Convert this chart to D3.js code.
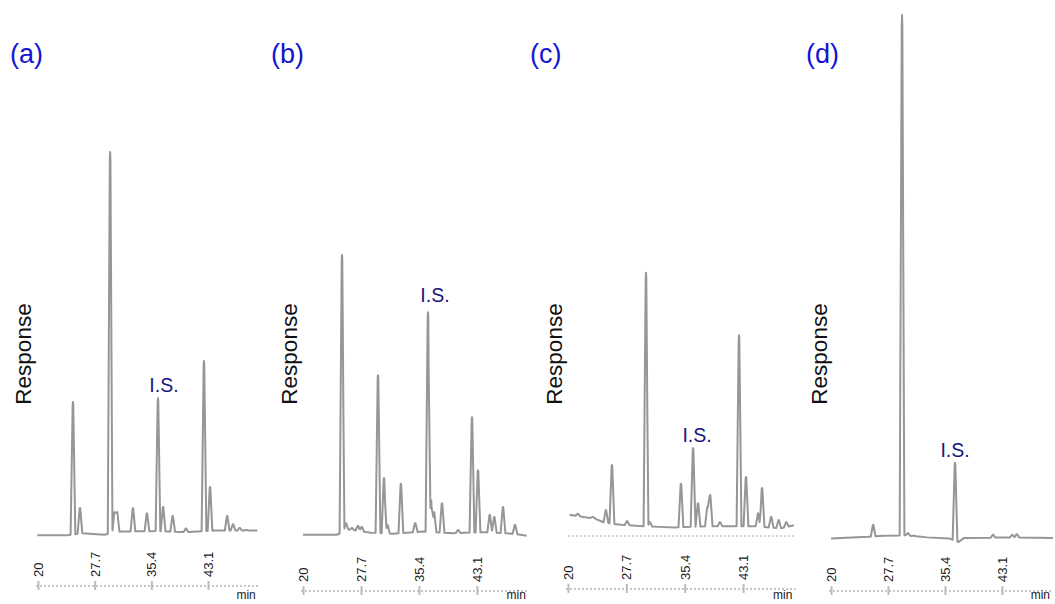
<!DOCTYPE html>
<html>
<head>
<meta charset="utf-8">
<script src="https://cdn.jsdelivr.net/npm/d3@7"></script>
<style>
  body { margin: 0; background: #fff; }
  svg { display: block; font-family: "Liberation Sans", Arial, sans-serif; }
</style>
</head>
<body>
<div id="chart"></div>
<script>
// retention time axis
const timeDomain = [20, 50];
const tickValues = [20, 27.7, 35.4, 43.1];
const tickLabels = ["20", "27.7", "35.4", "43.1"];
const panelNames = ["(a)", "(b)", "(c)", "(d)"];
const isTimes = [36.3, 36.6, 36.5, 36.76];

// peaks: [time (min), apex response]
const peaksA = [[24.75, 26.3], [25.7, 6.1], [29.8, 73.9], [30.4, 5.3], [30.75, 5.3], [32.9, 6.1],
  [34.8, 5.1], [36.3, 27.0], [37.0, 6.3], [38.3, 4.6], [40.1, 2.2], [42.55, 34.1], [43.37, 10.1],
  [45.7, 4.6], [46.5, 3.0], [47.4, 2.3], [48.3, 1.9]];
const peaksB = [[25.18, 54.3], [25.7, 3.2], [26.5, 2.3], [27.3, 2.7], [27.8, 2.5], [29.96, 31.4],
  [30.76, 11.8], [31.2, 2.9], [33.0, 10.7], [34.9, 3.2], [36.6, 43.4], [37.0, 7.6], [37.4, 5.3],
  [38.46, 7.0], [40.6, 1.9], [42.44, 23.4], [43.24, 13.3], [44.8, 4.8], [45.4, 4.4], [46.56, 6.3],
  [48.15, 2.9]];
const peaksC = [[21.3, 5.0], [23.3, 4.4], [25.0, 5.7], [25.8, 14.3], [27.8, 3.6], [30.29, 50.9],
  [30.8, 3.4], [34.9, 10.7], [36.5, 17.5], [37.15, 7.0], [38.4, 6.3], [38.75, 8.6], [40.05, 3.4],
  [42.56, 39.0], [43.48, 12.0], [45.07, 5.1], [45.6, 9.9], [46.8, 4.4], [47.8, 3.8], [48.8, 3.4]];
const peaksD = [[25.7, 2.9], [29.6, 100], [30.4, 1.3], [31.2, 0.8], [36.76, 14.7], [41.9, 1.0],
  [44.5, 1.0], [45.1, 1.1]];

// baseline drift: [time, response]
const baseA = [[19.9, 0.9], [24, 0.9], [26, 1.3], [29, 1.0], [31, 1.6], [36, 1.7], [40, 1.5], [44, 1.8], [49.8, 1.8]];
const baseB = [[20, 1.0], [24.5, 1.0], [26, 2.0], [29, 1.4], [32, 1.2], [36, 1.6], [40, 1.3], [44, 1.5], [48, 1.2], [49.7, 0.8]];
const baseC = [[20.2, 4.8], [22, 4.4], [23.5, 4.1], [24.8, 3.3], [27, 2.9], [29, 2.7], [32, 2.5], [34, 2.4],
  [38, 2.6], [41, 2.6], [45, 2.6], [48, 2.2], [49.8, 2.8]];
const baseD = [[20, 0.3], [25, 0.6], [27, 0.8], [30, 0.9], [33, 0.5], [36, 0.3], [37.2, -0.4], [38, 0.4], [45, 0.5], [50, 0.4]];

const allPeaks = [peaksA, peaksB, peaksC, peaksD];
const allBase = [baseA, baseB, baseC, baseD];

// layout only
const layout = [
  {x20: 38, k: 7.36, axisY: 586, labelX: 10, respX: 31, isDx: 6, isGap: 6, dotted: false},
  {x20: 303, k: 7.53, axisY: 591, labelX: 271, respX: 297, isDx: 7, isGap: 10, dotted: false},
  {x20: 568, k: 7.58, axisY: 589, labelX: 530, respX: 562, isDx: 4, isGap: 6, dotted: true},
  {x20: 831, k: 7.4, axisY: 591, labelX: 806, respX: 827, isDx: 0, isGap: 6, dotted: false}
];

document.addEventListener("DOMContentLoaded", setup);

function setup() {
  const width = 1055, height = 604;
  const svg = d3.select("#chart").append("svg")
    .attr("width", width)
    .attr("height", height);

  // one response scale for all four traces
  const y = d3.scaleLinear().domain([0, 100]).range([540, 15]);

  layout.forEach((lay, i) => {
    const x = d3.scaleLinear().domain(timeDomain)
      .range([lay.x20, lay.x20 + (timeDomain[1] - timeDomain[0]) * lay.k]);
    renderPanel(svg, i, lay, x, y, width);
  });
}

function buildTrace(peaks, base) {
  const baseAt = d3.scaleLinear()
    .domain(base.map(d => d[0]))
    .range(base.map(d => d[1]))
    .clamp(true);
  const hw = 0.32;
  let knots = base.map(d => d[0]);
  peaks.forEach(p => { knots.push(p[0] - hw, p[0] - 0.04, p[0], p[0] + 0.04, p[0] + hw); });
  knots = knots.filter(t => t >= base[0][0] && t <= base[base.length - 1][0]).sort((a, b) => a - b);
  return knots.map(t => {
    let top = 0;
    peaks.forEach(p => {
      const dist = Math.abs(t - p[0]);
      let f = Math.max(0, 1 - dist / hw);
      if (dist <= 0.04) f = 1 - dist * 0.5; // slightly flat apex
      top = Math.max(top, (p[1] - baseAt(p[0])) * f);
    });
    return [t, baseAt(t) + top];
  });
}

function renderPanel(svg, i, lay, x, y, width) {
  const g = svg.append("g");
  const trace = buildTrace(allPeaks[i], allBase[i]);

  if (lay.dotted) {
    g.append("line")
      .attr("x1", x(timeDomain[0])).attr("x2", x(timeDomain[1]))
      .attr("y1", y(0) - 4).attr("y2", y(0) - 4)
      .attr("stroke", "#d4d4d4")
      .attr("stroke-width", 2)
      .attr("stroke-dasharray", "2,2");
  }

  g.append("path")
    .datum(trace)
    .attr("fill", "none")
    .attr("stroke", "#969696")
    .attr("stroke-width", 2)
    .attr("stroke-linejoin", "round")
    .attr("d", d3.line().x(d => x(d[0])).y(d => y(d[1])));

  // time axis with upright labels
  const axis = g.append("g")
    .attr("transform", `translate(0,${lay.axisY})`)
    .call(d3.axisTop(x).tickValues(tickValues)
      .tickFormat((d, j) => tickLabels[j])
      .tickSizeOuter(0).tickSizeInner(5));
  axis.select(".domain")
    .attr("d", `M${x(timeDomain[0]) - 2},0H${x(timeDomain[1])}`)
    .attr("stroke", "#c6c6c6")
    .attr("stroke-width", 2)
    .attr("stroke-dasharray", "2,2");
  axis.selectAll(".tick line")
    .attr("y1", 4).attr("y2", -5)
    .attr("stroke", "#bdbdbd")
    .attr("stroke-width", 2);
  axis.selectAll(".tick text")
    .attr("transform", "rotate(-90)")
    .attr("x", 9).attr("y", 0).attr("dy", "0.35em")
    .attr("text-anchor", "start")
    .attr("fill", "#1a1a1a")
    .attr("font-family", "Liberation Sans, Arial, sans-serif")
    .attr("font-size", 13);

  g.append("text")
    .attr("x", Math.min(x(timeDomain[1]) - 3, width - 2))
    .attr("y", 599)
    .attr("text-anchor", "end")
    .attr("font-size", 12)
    .attr("fill", "#1a1a1a")
    .text("min");

  g.append("text")
    .attr("x", lay.labelX).attr("y", 63)
    .attr("font-size", 27)
    .attr("fill", "#1414d2")
    .text(panelNames[i]);

  g.append("text")
    .attr("transform", `translate(${lay.respX},354) rotate(-90)`)
    .attr("text-anchor", "middle")
    .attr("font-size", 22.5)
    .attr("fill", "#111")
    .text("Response");

  const isPeak = allPeaks[i].find(p => p[0] === isTimes[i]);
  g.append("text")
    .attr("x", x(isPeak[0]) + lay.isDx)
    .attr("y", y(isPeak[1]) - lay.isGap)
    .attr("text-anchor", "middle")
    .attr("font-size", 19.5)
    .attr("fill", "#16167c")
    .text("I.S.");
}
</script>
</body>
</html>
